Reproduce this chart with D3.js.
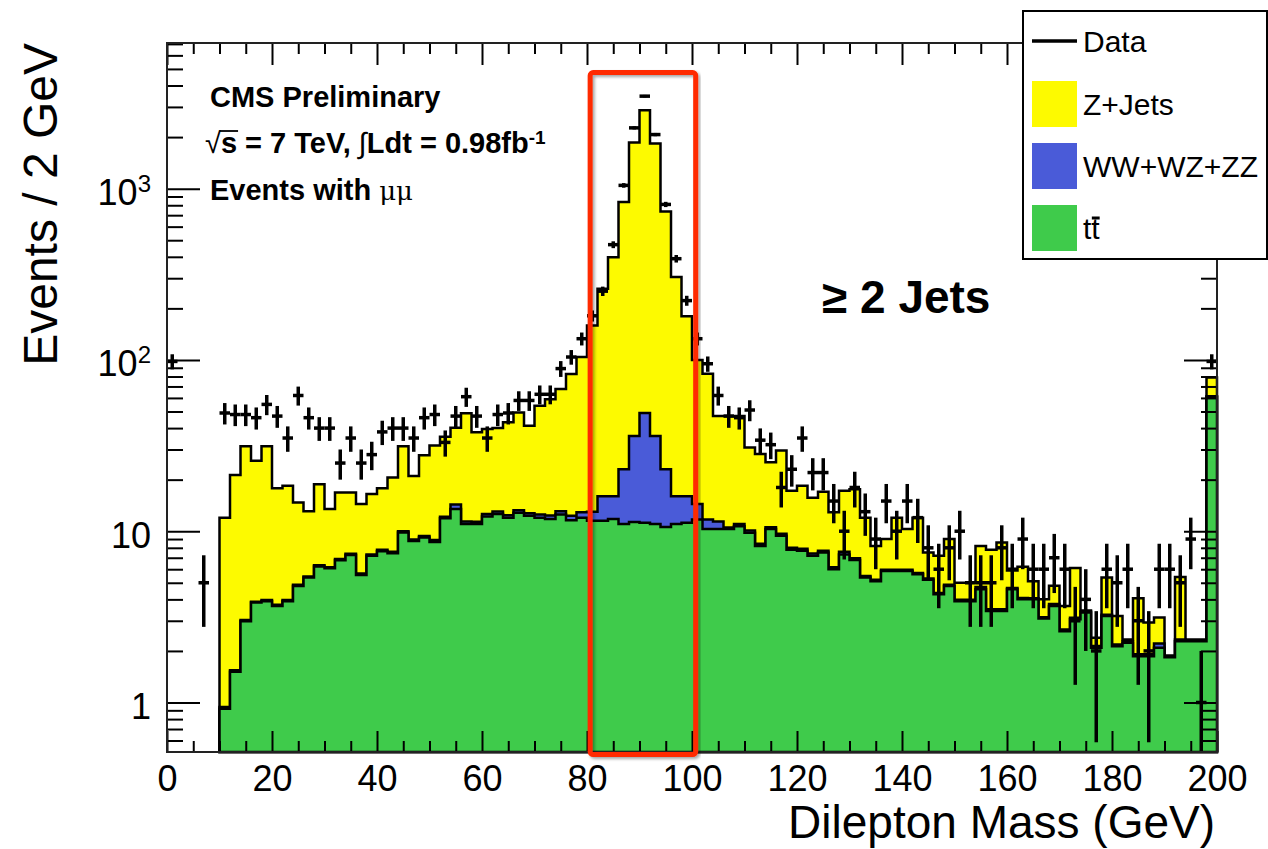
<!DOCTYPE html>
<html>
<head>
<meta charset="utf-8">
<script src="https://cdnjs.cloudflare.com/ajax/libs/d3/7.8.5/d3.min.js"></script>
<style>
  body { margin: 0; background: #ffffff; }
  svg text { font-family: "Liberation Sans", Arial, Helvetica, sans-serif; fill: #000; }
</style>
</head>
<body>
<svg id="canvas"></svg>
<script>
let width = 1268;
let height = 849;

let binWidth = 2; // GeV

// lower edges of the simulated bins (GeV)
let mcLow = [
  10, 12, 14, 16, 18, 20, 22, 24, 26, 28,
  30, 32, 34, 36, 38, 40, 42, 44, 46, 48,
  50, 52, 54, 56, 58, 60, 62, 64, 66, 68,
  70, 72, 74, 76, 78, 80, 82, 84, 86, 88,
  90, 92, 94, 96, 98, 100, 102, 104, 106, 108,
  110, 112, 114, 116, 118, 120, 122, 124, 126, 128,
  130, 132, 134, 136, 138, 140, 142, 144, 146, 148,
  150, 152, 154, 156, 158, 160, 162, 164, 166, 168,
  170, 172, 174, 176, 178, 180, 182, 184, 186, 188,
  190, 192, 194, 196, 198
];

// tt-bar
let ttbar = [
  0.92, 1.51, 2.98, 3.83, 3.90, 3.66, 3.90, 4.79, 5.36, 6.22,
  6.07, 6.77, 7.27, 5.55, 7.18, 7.64, 7.44, 9.83, 8.77, 9.19,
  8.66, 11.9, 13.5, 11.0, 11.0, 12.2, 12.6, 12.0, 12.8, 12.3,
  12.0, 11.8, 12.5, 11.6, 12.0, 11.5, 11.5, 11.8, 11.0, 11.3,
  11.2, 11.0, 10.6, 11.0, 11.2, 11.7, 10.3, 10.3, 10.3, 10.7,
  9.8, 8.2, 10.3, 9.4, 7.8, 7.7, 7.2, 7.5, 6.0, 7.3,
  6.8, 5.36, 5.1, 5.85, 5.85, 5.85, 5.6, 5.2, 4.28, 4.79,
  3.9, 3.9, 4.58, 3.42, 3.42, 4.58, 4.0, 4.0, 3.09, 3.66,
  2.61, 3.06, 3.35, 2.09, 3.2, 2.13, 2.23, 1.86, 1.86, 2.09,
  1.84, 2.28, 2.28, 2.28, 60.8
];

// WW+WZ+ZZ
let diboson = [
  0.02, 0.03, 0.05, 0.05, 0.06, 0.06, 0.07, 0.08, 0.08, 0.10,
  0.10, 0.12, 0.12, 0.12, 0.14, 0.15, 0.15, 0.18, 0.18, 0.20,
  0.22, 0.25, 0.8, 0.4, 0.35, 0.4, 0.45, 0.4, 0.45, 0.45,
  0.5, 0.55, 0.6, 0.7, 0.9, 1.5, 4.5, 4.2, 12, 24.7,
  37.8, 25, 12.4, 5, 4.8, 2.7, 1.4, 1.1, 0.2, 0.3,
  0.3, 0.25, 0.25, 0.25, 0.2, 0.2, 0.2, 0.2, 0.15, 0.3,
  0.15, 0.12, 0.1, 0.1, 0.1, 0.1, 0.1, 0.1, 0.08, 0.08,
  0.08, 0.08, 0.15, 0.08, 0.08, 0.08, 0.08, 0.06, 0.06, 0.1,
  0.06, 0.06, 0.05, 0.05, 0.05, 0.05, 0.05, 0.05, 0.05, 0.12,
  0.02, 0.05, 0.03, 0.03, 0.5
];

// Z+Jets
let zjets = [
  11.06, 19.76, 28.27, 21.92, 27.34, 14.08, 14.43, 9.83, 7.66, 12.48,
  7.33, 9.91, 9.41, 8.73, 9.18, 10.01, 13.01, 21.29, 12.05, 18.41,
  22.72, 23.45, 25.9, 37.4, 26.45, 26.9, 26.95, 30.8, 36.15, 28.55,
  41.5, 46.65, 54.5, 70.5, 91.1, 146, 244, 382, 813, 1822,
  2821, 1797, 713, 289, 164, 85.6, 71.3, 35.6, 36.5, 36.0,
  20.7, 19.75, 14.75, 19.95, 9.2, 10.5, 8.3, 9.3, 6.75, 9.6,
  10.65, 6.52, 3.0, 3.05, 6.05, 4.35, 6.3, 2.2, 2.84, 4.13,
  1.02, 1.02, 3.47, 4.3, 5.1, 1.24, 2.12, 1.04, 0.85, 1.04,
  0.99, 2.98, 0.05, 0.25, 2.11, 1.02, 0.05, 2.15, 1.02, 0.92,
  0.02, 3.07, 0.02, 0.02, 17.7
];

// observed events: bin centres (GeV) and counts
let dataMass = [
  1, 7,
  11, 13, 15, 17, 19, 21, 23, 25, 27, 29,
  31, 33, 35, 37, 39, 41, 43, 45, 47, 49,
  51, 53, 55, 57, 59, 61, 63, 65, 67, 69,
  71, 73, 75, 77, 79, 81, 83, 85, 87, 89,
  91, 93, 95, 97, 99, 101, 103, 105, 107, 109,
  111, 113, 115, 117, 119, 121, 123, 125, 127, 129,
  131, 133, 135, 137, 139, 141, 143, 145, 147, 149,
  151, 153, 155, 157, 159, 161, 163, 165, 167, 169,
  171, 173, 175, 177, 179, 181, 183, 185, 187, 189,
  191, 193, 195, 197, 199
];
let dataCounts = [
  98, 5,
  49, 48, 48, 46, 55, 47, 35, 62, 46, 40,
  40, 25, 35, 25, 28, 38, 40, 40, 35, 46,
  48, 33, 47, 61, 47, 35, 48, 49, 58, 58,
  63, 63, 89, 104, 133, 181, 252, 471, 1045, 2264,
  3467, 2069, 809, 390, 222, 133, 95, 62, 47, 46,
  51, 34, 32, 18, 23, 35, 22, 22, 15, 10,
  18, 13, 9, 15, 10, 15, 12, 8, 6, 8,
  10, 5, 5, 5, 8, 6, 9, 6, 6, 7,
  6, 3, 4, 2, 6, 5, 6, 3, 2, 6,
  6, 5, 9, 1, 98
];

// axis ticks
let xMajorTicks = [0, 20, 40, 60, 80, 100, 120, 140, 160, 180, 200];
let xMinorTicks = [5, 10, 15, 25, 30, 35, 45, 50, 55, 65, 70, 75, 85, 90, 95,
  105, 110, 115, 125, 130, 135, 145, 150, 155, 165, 170, 175, 185, 190, 195];
let yMajorTicks = [1, 10, 100, 1000];
let yMinorTicks = [0.6, 0.7, 0.8, 0.9, 2, 3, 4, 5, 6, 7, 8, 9,
  20, 30, 40, 50, 60, 70, 80, 90, 200, 300, 400, 500, 600, 700, 800, 900,
  2000, 3000, 4000, 5000, 6000, 7000];

// highlighted Z window (GeV) and its top edge (events)
let highlightMass = [80.6, 100.7];
let highlightTop = 4760;

let legendLabels = ["Data", "Z+Jets", "WW+WZ+ZZ", "tt"];
let legendColors = [null, "#fdfa00", "#4a5bd8", "#3fcb4b"];

let colors = { tt: "#3fcb4b", vv: "#4a5bd8", zj: "#fdfa00" };

let canvas = d3.select("#canvas")
  .attr("width", width)
  .attr("height", height);

let xScale = d3.scaleLinear()
  .domain([0, 200])
  .range([167, 1217]);

let yScale = d3.scaleLog()
  .domain([0.514, 7085])
  .range([752, 43])
  .clamp(true);

let yBottom = yScale.range()[0];
let yTop = yScale.range()[1];

// drop shadow for the red box
let defs = canvas.append("defs");
defs.append("filter").attr("id", "shadow")
  .attr("x", "-5%").attr("y", "-5%").attr("width", "110%").attr("height", "110%")
  .append("feDropShadow")
  .attr("dx", 2).attr("dy", 2).attr("stdDeviation", 1.5)
  .attr("flood-color", "#000").attr("flood-opacity", 0.35);

// ---- stacked histograms ----
let rows = mcLow.map((lo, i) => ({ lo: lo, tt: ttbar[i], vv: diboson[i], zj: zjets[i] }));
let series = d3.stack().keys(["tt", "vv", "zj"])(rows);

let area = d3.area()
  .x(p => xScale(p[0]))
  .y0(yBottom)
  .y1(p => yScale(p[1]));

// biggest cumulative first, so the smaller ones sit on top
series.slice().reverse().forEach(s => {
  let pts = [];
  s.forEach(d => {
    pts.push([d.data.lo, d[1]]);
    pts.push([d.data.lo + binWidth, d[1]]);
  });
  canvas.append("path")
    .datum(pts)
    .attr("d", area)
    .attr("fill", colors[s.key])
    .attr("stroke", "#000")
    .attr("stroke-width", 2.5)
    .attr("stroke-linejoin", "miter");
});

// ---- data points with sqrt(N) errors ----
let points = dataMass.map((m, i) => ({ m: m, n: dataCounts[i] }));
let dataG = canvas.append("g")
  .attr("stroke", "#000")
  .attr("stroke-width", 3.5);

dataG.selectAll(".errv")
  .data(points)
  .enter()
  .append("line")
  .attr("x1", d => xScale(d.m))
  .attr("x2", d => xScale(d.m))
  .attr("y1", d => yScale(Math.max(d.n - Math.sqrt(d.n), 1e-4)))
  .attr("y2", d => yScale(d.n + Math.sqrt(d.n)));

dataG.selectAll(".errh")
  .data(points)
  .enter()
  .append("line")
  .attr("x1", d => xScale(d.m - binWidth / 2))
  .attr("x2", d => xScale(d.m + binWidth / 2))
  .attr("y1", d => yScale(d.n))
  .attr("y2", d => yScale(d.n));

// ---- axes (ROOT style: ticks inside, on all four sides) ----
let styleAxis = (g) => {
  g.select(".domain").remove();
  g.selectAll(".tick line").attr("stroke", "#000").attr("stroke-width", 2);
};

canvas.append("g")
  .attr("transform", "translate(0," + yBottom + ")")
  .call(d3.axisBottom(xScale).tickValues(xMajorTicks).tickSize(-21).tickPadding(13).tickFormat(d3.format("d")))
  .call(styleAxis)
  .call(g => g.selectAll("text").attr("font-size", "36px").attr("font-family", "Liberation Sans, Arial, sans-serif"));

canvas.append("g")
  .attr("transform", "translate(0," + yBottom + ")")
  .call(d3.axisBottom(xScale).tickValues(xMinorTicks).tickSize(-11).tickFormat(""))
  .call(styleAxis);

canvas.append("g")
  .attr("transform", "translate(0," + yTop + ")")
  .call(d3.axisTop(xScale).tickValues(xMajorTicks).tickSize(-22).tickFormat(""))
  .call(styleAxis);

canvas.append("g")
  .attr("transform", "translate(0," + yTop + ")")
  .call(d3.axisTop(xScale).tickValues(xMinorTicks).tickSize(-11).tickFormat(""))
  .call(styleAxis);

canvas.append("g")
  .attr("transform", "translate(" + xScale.range()[0] + ",0)")
  .call(d3.axisLeft(yScale).tickValues(yMajorTicks).tickSize(-33).tickPadding(16).tickFormat(""))
  .call(styleAxis)
  .call(g => g.selectAll(".tick text")
    .attr("font-size", "36px")
    .attr("font-family", "Liberation Sans, Arial, sans-serif")
    .attr("dy", "0.44em")
    .each(function (d) {
      let t = d3.select(this);
      if (d >= 100) {
        t.append("tspan").text("10");
        t.append("tspan").attr("dy", "-0.55em").attr("font-size", "24px").text(Math.round(Math.log10(d)));
      } else {
        t.text(d);
      }
    }));

canvas.append("g")
  .attr("transform", "translate(" + xScale.range()[0] + ",0)")
  .call(d3.axisLeft(yScale).tickValues(yMinorTicks).tickSize(-16).tickFormat(""))
  .call(styleAxis);

canvas.append("g")
  .attr("transform", "translate(" + xScale.range()[1] + ",0)")
  .call(d3.axisRight(yScale).tickValues(yMajorTicks).tickSize(-33).tickFormat(""))
  .call(styleAxis);

canvas.append("g")
  .attr("transform", "translate(" + xScale.range()[1] + ",0)")
  .call(d3.axisRight(yScale).tickValues(yMinorTicks).tickSize(-16).tickFormat(""))
  .call(styleAxis);

// frame
canvas.append("rect")
  .attr("x", xScale.range()[0])
  .attr("y", yTop)
  .attr("width", xScale.range()[1] - xScale.range()[0])
  .attr("height", yBottom - yTop)
  .attr("fill", "none")
  .attr("stroke", "#222")
  .attr("stroke-width", 2);

// axis titles
canvas.append("text")
  .attr("transform", "translate(57," + yTop + ") rotate(-90)")
  .attr("text-anchor", "end")
  .attr("font-size", "48px")
  .text("Events / 2 GeV");

canvas.append("text")
  .attr("x", 1215)
  .attr("y", 838)
  .attr("text-anchor", "end")
  .attr("font-size", "46px")
  .text("Dilepton Mass (GeV)");

// CMS labels
canvas.append("text")
  .attr("x", 210).attr("y", 107)
  .attr("font-size", "29px").attr("font-weight", "bold")
  .text("CMS Preliminary");

let lumi = canvas.append("text")
  .attr("x", 205).attr("y", 153)
  .attr("font-size", "29px").attr("font-weight", "bold");
lumi.append("tspan").attr("font-weight", "normal").text("\u221A");
lumi.append("tspan").text("s");
lumi.append("tspan").text(" = 7 TeV, ");
lumi.append("tspan").attr("font-weight", "normal").text("\u222B");
lumi.append("tspan").text("Ldt = 0.98fb");
lumi.append("tspan").attr("dy", "-0.5em").attr("font-size", "19px").text("-1");

// vinculum of the square root over the "s"
let rootEnd = lumi.node().getEndPositionOfChar(0).x;
let sEnd = lumi.node().getEndPositionOfChar(1).x;
canvas.append("line")
  .attr("x1", rootEnd - 1).attr("x2", sEnd + 1)
  .attr("y1", 131).attr("y2", 131)
  .attr("stroke", "#000").attr("stroke-width", 1.8);

let evw = canvas.append("text")
  .attr("x", 210).attr("y", 200)
  .attr("font-size", "29px").attr("font-weight", "bold");
evw.append("tspan").text("Events with ");
evw.append("tspan").attr("font-weight", "normal").attr("font-family", "DejaVu Serif, serif").attr("font-size", "26px").text("\u03BC\u03BC");

canvas.append("text")
  .attr("x", 822).attr("y", 313)
  .attr("font-size", "46px").attr("font-weight", "bold")
  .text("\u2265 2 Jets");

// legend
let legend = canvas.append("g");
legend.append("rect")
  .attr("x", 1023).attr("y", 11)
  .attr("width", 244).attr("height", 248)
  .attr("fill", "#fff")
  .attr("stroke", "#000")
  .attr("stroke-width", 2);

let entryY = [41, 104, 166, 228];
legendLabels.forEach((lab, i) => {
  let cy = entryY[i];
  if (legendColors[i] === null) {
    legend.append("line")
      .attr("x1", 1032).attr("x2", 1077)
      .attr("y1", cy).attr("y2", cy)
      .attr("stroke", "#000").attr("stroke-width", 3.5);
  } else {
    legend.append("rect")
      .attr("x", 1032).attr("y", cy - 23)
      .attr("width", 45).attr("height", 46)
      .attr("fill", legendColors[i]);
  }
  let t = legend.append("text")
    .attr("x", 1083).attr("y", cy + 11)
    .attr("font-size", "30px")
    .text(lab);
  if (lab === "tt") {
    // bar over the second t (anti-top)
    let a = t.node().getStartPositionOfChar(1).x;
    let b = t.node().getEndPositionOfChar(1).x;
    legend.append("line")
      .attr("x1", a + 0.5).attr("x2", b)
      .attr("y1", cy - 10).attr("y2", cy - 10)
      .attr("stroke", "#000").attr("stroke-width", 3);
  }
});

// red highlight box around the Z peak
canvas.append("rect")
  .attr("x", xScale(highlightMass[0]))
  .attr("y", yScale(highlightTop))
  .attr("width", xScale(highlightMass[1]) - xScale(highlightMass[0]))
  .attr("height", yBottom + 2.5 - yScale(highlightTop))
  .attr("rx", 3)
  .attr("fill", "none")
  .attr("stroke", "#ff2a00")
  .attr("stroke-width", 5)
  .attr("filter", "url(#shadow)");
</script>
</body>
</html>
